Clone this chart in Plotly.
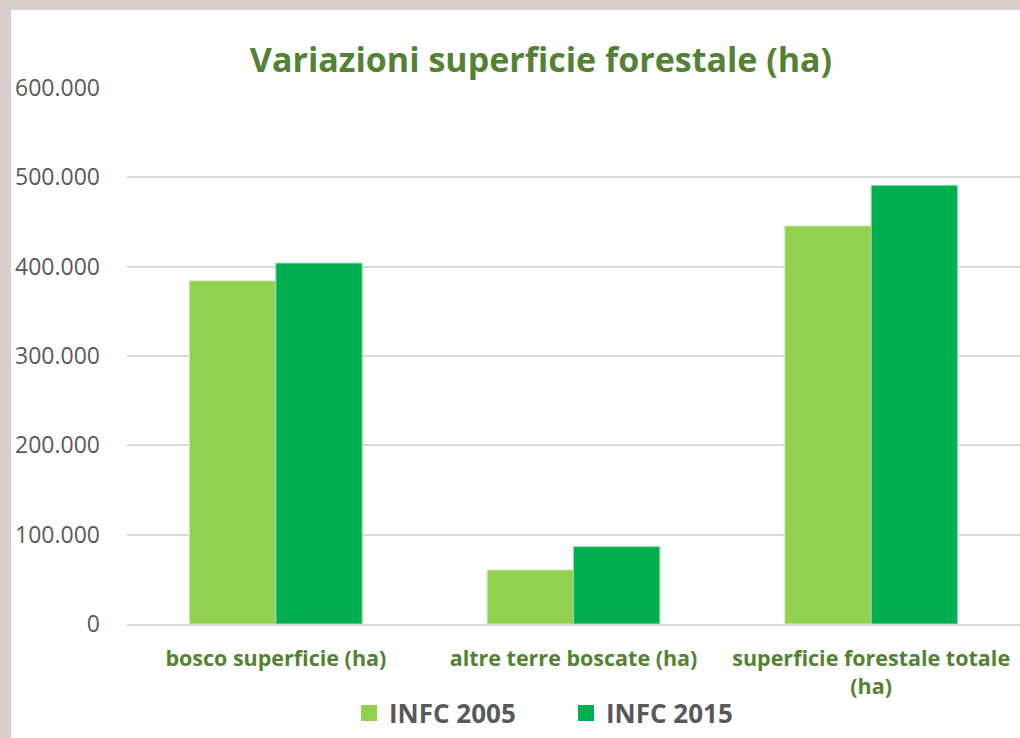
import plotly.graph_objects as go

# dati
categorie = ["bosco superficie (ha)", "altre terre boscate (ha)", "superficie forestale totale<br>(ha)"]
infc_2005 = [384000, 60500, 445500]
infc_2015 = [404000, 86500, 491000]
tick_vals = [0, 100000, 200000, 300000, 400000, 500000, 600000]
tick_text = ["0", "100.000", "200.000", "300.000", "400.000", "500.000", "600.000"]

W, H = 1020, 738
L, R, T, B = 127, 0, 88, 114
pw, ph = W - L - R, H - T - B

verde_chiaro = "#92D050"
verde_scuro = "#00B050"
titolo_col = "#548235"
grigio = "#595959"
FONT = "Open Sans"

fig = go.Figure()
fig.add_trace(go.Bar(x=categorie, y=infc_2005, name="INFC 2005", showlegend=False,
                     marker=dict(color=verde_chiaro, line=dict(color="#c8eab0", width=1))))
fig.add_trace(go.Bar(x=categorie, y=infc_2015, name="INFC 2015", showlegend=False,
                     marker=dict(color=verde_scuro, line=dict(color="#8fdcae", width=1))))

# voci di legenda con quadratini più grandi
for nome, col in [("INFC 2005", verde_chiaro), ("INFC 2015", verde_scuro)]:
    fig.add_trace(go.Scatter(x=[None], y=[None], mode="markers", name=f"<b>{nome}</b>",
                             marker=dict(symbol="square", size=16, color=col)))

# riquadro bianco sopra lo sfondo "fotografico"
fig.add_shape(type="rect", xref="paper", yref="paper", layer="below",
              x0=(11 - L) / pw, x1=1.05, y0=-(B + 10) / ph, y1=(ph + T - 10) / ph,
              fillcolor="white", line=dict(width=0))

fig.update_layout(
    width=W, height=H,
    margin=dict(l=L, r=R, t=T, b=B, pad=0, autoexpand=False),
    paper_bgcolor="#d8cfcd",
    plot_bgcolor="rgba(0,0,0,0)",
    font=dict(family=FONT, color=grigio),
    barmode="group", bargap=0.42, bargroupgap=0,
    title=dict(text="<b>Variazioni superficie forestale (ha)</b>",
               font=dict(size=34, color=titolo_col, family=FONT),
               x=(541 - L) / pw, xref="paper", xanchor="center",
               y=1 - 60 / H, yanchor="middle"),
    legend=dict(orientation="h", x=(349 - L) / pw, xanchor="left",
                y=-(713 - 624) / ph, yanchor="middle",
                font=dict(size=26, color=grigio, family=FONT),
                entrywidth=172, entrywidthmode="pixels",
                bgcolor="rgba(0,0,0,0)"),
    showlegend=True,
)
fig.update_xaxes(showgrid=False, showline=True, linecolor="#d9d9d9", linewidth=2,
                 tickfont=dict(size=21.5, color=titolo_col, family=FONT),
                 tickvals=categorie, ticktext=[f"<b>{c}</b>" for c in categorie],
                 ticks="outside", ticklen=14, tickcolor="rgba(0,0,0,0)")
fig.update_yaxes(range=[0, 600000], tickvals=tick_vals, ticktext=tick_text,
                 showgrid=True, gridcolor="#d9d9d9", gridwidth=2, zeroline=False,
                 tickfont=dict(size=23, color=grigio, family=FONT),
                 ticklabelstandoff=26, showline=False)

fig.write_html("out.html", config={"displayModeBar": False},
               post_script="document.body.style.margin='0';")
